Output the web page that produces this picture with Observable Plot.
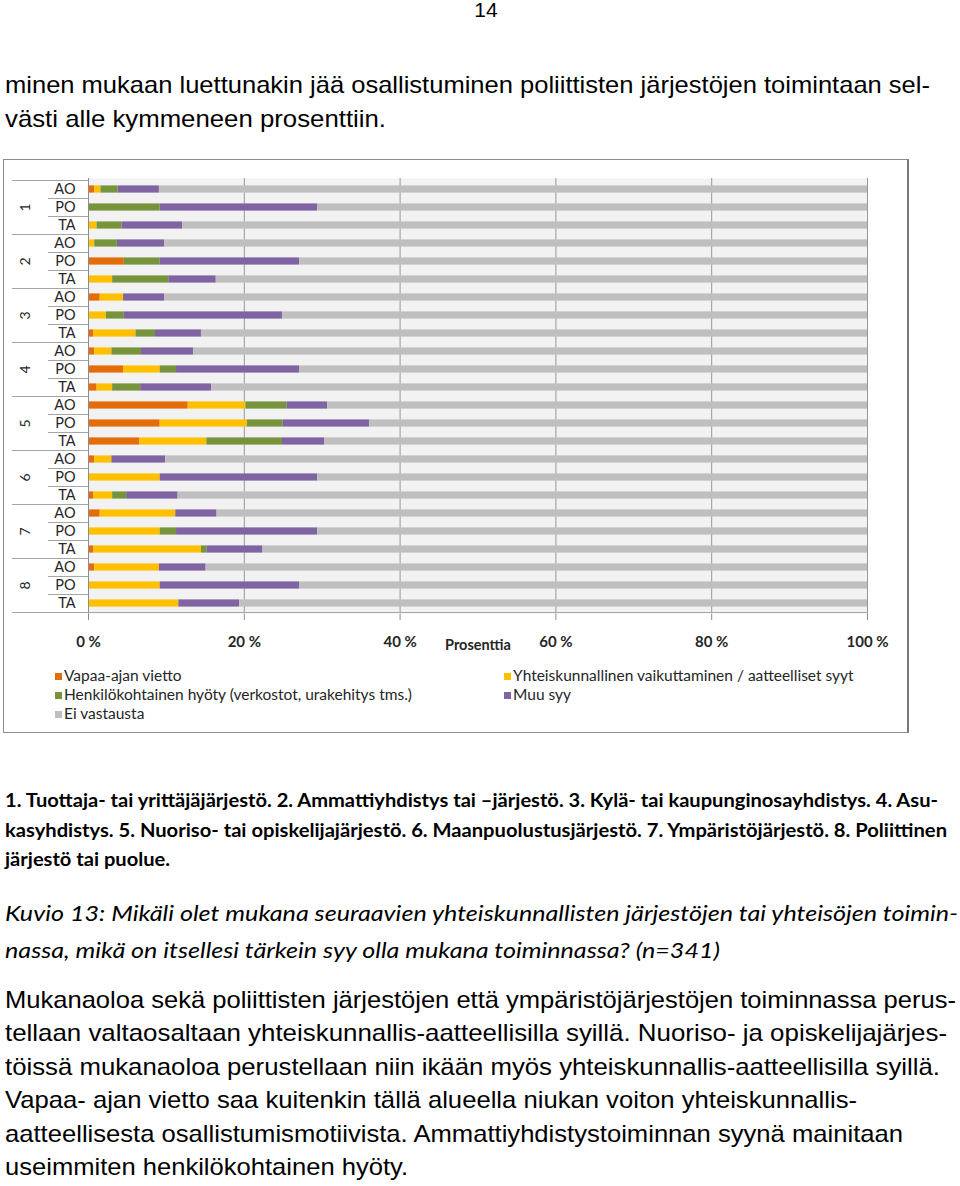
<!DOCTYPE html>
<html><head><meta charset="utf-8">
<script src="https://cdn.jsdelivr.net/npm/d3@7"></script>
<script src="https://cdn.jsdelivr.net/npm/@observablehq/plot@0.6"></script>
<style>
body{margin:0;background:#fff;width:960px;height:1186px;position:relative;overflow:hidden}
.t{position:absolute;white-space:nowrap;line-height:1;color:#000}
#frame{position:absolute;left:3px;top:159px;width:903px;height:572px;border:1px solid #8c8c8c;border-right:2px solid #7a7a7a;background:#fff}
#chart{position:absolute;left:0;top:0}
.lg{position:absolute;white-space:nowrap;font-family:Lato,sans-serif;font-size:15.5px;line-height:1;color:#262626}
.sw{position:absolute;width:7px;height:7px}
</style></head><body>
<div id="frame"><div id="chart"></div></div>
<script>
// ---- data ----
const groups = ["1","2","3","4","5","6","7","8"];
const subLabels = ["AO","PO","TA"];
const categories = [
  "Vapaa-ajan vietto",
  "Yhteiskunnallinen vaikuttaminen / aatteelliset syyt",
  "Henkilökohtainen hyöty (verkostot, urakehitys tms.)",
  "Muu syy",
  "Ei vastausta"
];
const colors = ["#e46c0a","#ffc000","#77933c","#8064a2","#bfbfbf"];
// values in %, rows in order 1-AO,1-PO,1-TA,2-AO,...,8-TA
const vapaa  = [0.8,0,0,   0,4.6,0,    1.5,0,0.7,   0.8,4.5,1.1,  12.8,9.2,6.6,  0.8,0,0.7,  1.5,0,0.7,   0.8,0,0];
const yhteis = [0.8,0,1.1, 0.8,0,3.1,  3.0,2.3,5.4, 2.2,4.7,2.0,  7.4,11.2,8.6,  2.2,9.2,2.4, 9.7,9.2,13.8, 8.3,9.2,11.6];
const henk   = [2.2,9.2,3.2, 2.9,4.6,7.2, 0,2.3,2.5, 3.8,2.1,3.6, 5.3,4.6,9.7,  0,0,1.8,    0,2.1,0.7,   0,0,0];
const muu    = [5.3,20.2,7.8, 6.1,17.9,6.1, 5.3,20.3,5.9, 6.7,15.8,9.1, 5.2,11.1,5.4, 6.9,20.2,6.6, 5.3,18.1,7.2, 6.0,17.9,7.8];
const ei     = [90.9,70.6,87.9, 90.2,72.9,83.6, 90.2,75.1,85.5, 86.5,72.9,84.2, 69.3,63.9,69.7, 90.1,70.6,88.5, 83.5,70.6,77.6, 84.9,72.9,80.6];
const xTicks = [0,20,40,60,80,100];
const xLabel = "Prosenttia";

// ---- page texts ----
const texts = [
  {text:"14", x:486, anchor:"middle", base:17, size:21, family:"'Liberation Sans',Arial,sans-serif"},
  {text:"minen mukaan luettunakin jää osallistuminen poliittisten järjestöjen toimintaan sel-", x:5, base:93, size:24, w:925, family:"'Liberation Sans',Arial,sans-serif"},
  {text:"västi alle kymmeneen prosenttiin.", x:5, base:127, size:24, w:381, family:"'Liberation Sans',Arial,sans-serif"},
  {text:"1. Tuottaja- tai yrittäjäjärjestö. 2. Ammattiyhdistys tai –järjestö. 3. Kylä- tai kaupunginosayhdistys. 4. Asu-", x:5, base:807, size:19, w:933, weight:"bold", family:"Lato,sans-serif"},
  {text:"kasyhdistys. 5. Nuoriso- tai opiskelijajärjestö. 6. Maanpuolustusjärjestö. 7. Ympäristöjärjestö. 8. Poliittinen", x:5, base:837, size:19, w:942, weight:"bold", family:"Lato,sans-serif"},
  {text:"järjestö tai puolue.", x:5, base:866, size:19, w:165, weight:"bold", family:"Lato,sans-serif"},
  {text:"Kuvio 13: Mikäli olet mukana seuraavien yhteiskunnallisten järjestöjen tai yhteisöjen toimin-", x:5, base:922, size:22, w:953, style:"italic", family:"Lato,sans-serif"},
  {text:"nassa, mikä on itsellesi tärkein syy olla mukana toiminnassa? (n=341)", x:5, base:959, size:22, w:715, style:"italic", family:"Lato,sans-serif"},
  {text:"Mukanaoloa sekä poliittisten järjestöjen että ympäristöjärjestöjen toiminnassa perus-", x:5, base:1008, size:24, w:951, family:"'Liberation Sans',Arial,sans-serif"},
  {text:"tellaan valtaosaltaan yhteiskunnallis-aatteellisilla syillä. Nuoriso- ja opiskelijajärjes-", x:5, base:1041, size:24, w:942, family:"'Liberation Sans',Arial,sans-serif"},
  {text:"töissä mukanaoloa perustellaan niin ikään myös yhteiskunnallis-aatteellisilla syillä.", x:5, base:1075, size:24, w:935, family:"'Liberation Sans',Arial,sans-serif"},
  {text:"Vapaa- ajan vietto saa kuitenkin tällä alueella niukan voiton yhteiskunnallis-", x:5, base:1108, size:24, w:852, family:"'Liberation Sans',Arial,sans-serif"},
  {text:"aatteellisesta osallistumismotiivista. Ammattiyhdistystoiminnan syynä mainitaan", x:5, base:1142, size:24, w:898, family:"'Liberation Sans',Arial,sans-serif"},
  {text:"useimmiten henkilökohtainen hyöty.", x:5, base:1175, size:24, w:403, family:"'Liberation Sans',Arial,sans-serif"}
];
for (const t of texts) {
  const d = document.createElement("div");
  d.className = "t";
  d.textContent = t.text;
  d.style.fontFamily = t.family;
  d.style.fontSize = t.size + "px";
  if (t.weight) d.style.fontWeight = t.weight;
  if (t.style) d.style.fontStyle = t.style;
  const k = t.family.startsWith("Lato") ? 0.89 : 0.85;
  d.style.top = (t.base - k * t.size) + "px";
  document.body.appendChild(d);
  const nat = d.getBoundingClientRect().width;
  if (t.anchor === "middle") d.style.left = (t.x - nat / 2) + "px";
  else d.style.left = t.x + "px";
  if (t.w) { d.style.transformOrigin = "0 0"; d.style.transform = `scaleX(${t.w / nat})`; }
}

// ---- chart ----
const keys = groups.flatMap(g => subLabels.map(s => g + "|" + s));
const series = [vapaa, yhteis, henk, muu, ei];
const table = [];
keys.forEach((k, i) => categories.forEach((c, j) => table.push({key: k, cat: c, value: series[j][i]})));

function separators(index, scales, values, dims) {
  const y = scales.y;
  const step = y(keys[1]) - y(keys[0]);
  const x0 = dims.marginLeft;
  const g = d3.create("svg:g").attr("stroke", "#a6a6a6").attr("stroke-width", 1);
  keys.forEach((k, i) => {
    const yy = Math.round(y(k)) + 0.5;
    g.append("line").attr("x1", i % 3 === 0 ? x0 - 76 : x0 - 40).attr("x2", x0)
      .attr("y1", yy).attr("y2", yy);
  });
  const yb = Math.round(y(keys[keys.length - 1]) + step) + 0.5;
  g.append("line").attr("x1", x0 - 76).attr("x2", dims.width - dims.marginRight)
    .attr("y1", yb).attr("y2", yb);
  return g.node();
}

const chart = Plot.plot({
  width: 903, height: 501,
  marginLeft: 84, marginRight: 40, marginTop: 18, marginBottom: 48,
  style: {fontFamily: "Lato, sans-serif", fontSize: "14px", color: "#262626", background: "transparent", overflow: "visible"},
  x: {domain: [0, 100], ticks: xTicks, tickFormat: d => d + " %", tickSize: 7, tickPadding: 16, label: null},
  y: {domain: keys, padding: 0, tickSize: 0, tickPadding: 13, tickFormat: k => k.split("|")[1], label: null},
  color: {domain: categories, range: colors},
  marks: [
    Plot.frame({fill: "#f2f2f2", stroke: "none"}),
    Plot.ruleX(xTicks.slice(1), {stroke: "#8c8c8c", strokeWidth: 0.9}),
    Plot.barX(table, {y: "key", x: "value", fill: "cat", insetTop: 5.4, insetBottom: 5.4}),
    Plot.ruleX([0], {stroke: "#8c8c8c"}),
    separators,
    Plot.text(groups, {y: g => g + "|PO", text: d => d, frameAnchor: "left", dx: -63, rotate: -90, textAnchor: "middle", lineAnchor: "middle", fontSize: 14, fill: "#262626"}),
    Plot.text([xLabel], {text: d => d, frameAnchor: "bottom", dy: 32, lineAnchor: "middle", fontWeight: "bold", fontSize: 14.5, fill: "#262626"})
  ]
});
const svg = d3.select(chart);
svg.selectAll('[aria-label^="x-axis"] text').attr("font-weight", "bold").attr("font-size", 15);
svg.selectAll('[aria-label^="y-axis"] text').attr("font-size", 14.5);
svg.selectAll('[aria-label^="x-axis"] line, [aria-label^="x-axis"] path').attr("stroke", "#8c8c8c");
document.getElementById("chart").appendChild(chart);

// ---- legend ----
const legendPos = (i) => ({x: i % 2 === 0 ? 55 : 504, y: 676 + Math.floor(i / 2) * 19});
categories.forEach((c, i) => {
  const p = legendPos(i);
  const sw = document.createElement("div");
  sw.className = "sw"; sw.style.background = colors[i];
  sw.style.left = p.x + "px"; sw.style.top = (p.y - 3.5) + "px";
  document.body.appendChild(sw);
  const t = document.createElement("div");
  t.className = "lg"; t.textContent = c;
  t.style.left = (p.x + 9) + "px"; t.style.top = (p.y - 8.5) + "px";
  document.body.appendChild(t);
});
</script>
</body></html>
